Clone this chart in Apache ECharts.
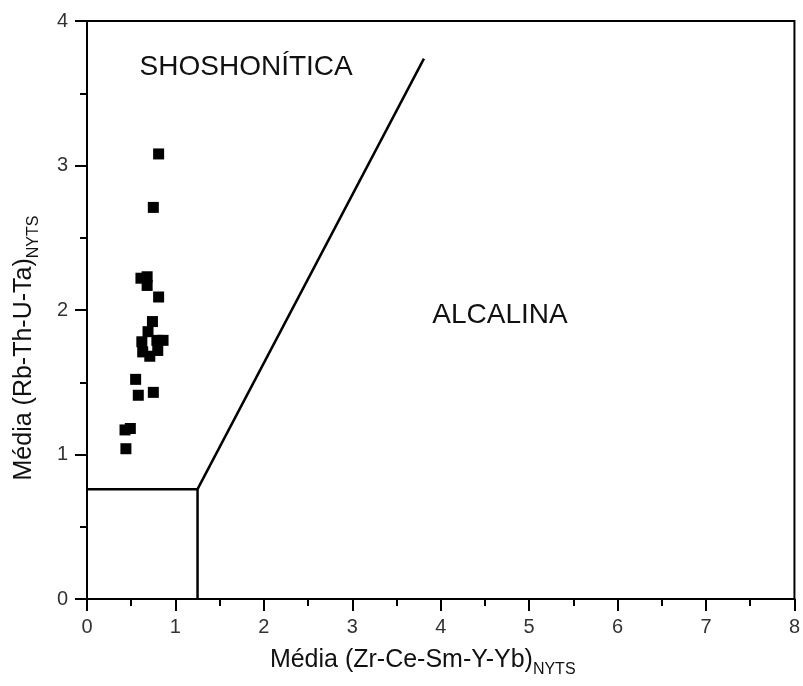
<!DOCTYPE html>
<html>
<head>
<meta charset="utf-8">
<script src="https://cdn.jsdelivr.net/npm/echarts@6/dist/echarts.min.js"></script>
<style>
  html, body { margin: 0; padding: 0; background: #fff; }
  #chart { width: 803px; height: 686px; }
</style>
</head>
<body>
<div id="chart"></div>
<script>
// Sample averages (Zr-Ce-Sm-Y-Yb vs Rb-Th-U-Ta, NYTS-normalised)
const sampleX = [0.81, 0.75, 0.61, 0.68, 0.68, 0.81, 0.74, 0.69, 0.62, 0.63,
                 0.71, 0.80, 0.86, 0.79, 0.55, 0.58, 0.75, 0.43, 0.49, 0.44];
const sampleY = [3.08, 2.71, 2.22, 2.23, 2.17, 2.09, 1.92, 1.85, 1.78, 1.71,
                 1.68, 1.72, 1.79, 1.79, 1.52, 1.41, 1.43, 1.17, 1.18, 1.04];

// Field boundaries
const boxBoundary = [[0, 0.76], [1.25, 0.76], [1.25, 0]];
const slopeBoundary = [[1.25, 0.76], [3.81, 3.74]];

// Field names and where they sit
const fieldNames = ['SHOSHONÍTICA', 'ALCALINA'];
const fieldX = [1.80, 4.67];
const fieldY = [3.68, 1.96];

const xTicks = [0, 1, 2, 3, 4, 5, 6, 7, 8];
const yTicks = [0, 1, 2, 3, 4];

const points = sampleX.map((x, i) => [x, sampleY[i]]);
const fields = fieldNames.map((n, i) => ({ name: n, value: [fieldX[i], fieldY[i]] }));

const txt = '#111';
const tickTxt = '#333';
const font = 'Liberation Sans, Arial, sans-serif';

const nameRich = {
  m: { fontSize: 25, fontFamily: font, color: txt, verticalAlign: 'bottom', padding: [0, 0, 2, 0] },
  s: { fontSize: 16, fontFamily: font, color: txt, verticalAlign: 'bottom', padding: [0, 0, -3, 0] }
};

const chart = echarts.init(document.getElementById('chart'));
chart.setOption({
  animation: false,
  backgroundColor: '#ffffff',
  grid: {
    left: 87, right: 8, top: 21, bottom: 87,
    show: true, borderColor: '#000', borderWidth: 2,
    backgroundColor: 'transparent'
  },
  xAxis: {
    type: 'value',
    min: xTicks[0], max: xTicks[xTicks.length - 1], interval: 1,
    name: '{m|Média (Zr-Ce-Sm-Y-Yb)}{s|NYTS}',
    nameLocation: 'middle',
    nameGap: 49,
    nameTextStyle: { padding: [0, 36, 0, 0], rich: nameRich },
    axisLine: { show: true, lineStyle: { color: '#000', width: 2 } },
    axisTick: { show: true, inside: false, length: 12, lineStyle: { color: '#000', width: 2 } },
    minorTick: { show: true, splitNumber: 2, length: 7, lineStyle: { color: '#000', width: 2 } },
    splitLine: { show: false },
    axisLabel: { margin: 18, fontSize: 20, fontFamily: font, color: tickTxt }
  },
  yAxis: {
    type: 'value',
    min: yTicks[0], max: yTicks[yTicks.length - 1], interval: 1,
    name: '{m|Média (Rb-Th-U-Ta)}{s|NYTS}',
    nameLocation: 'middle',
    nameGap: 48,
    nameRotate: 90,
    nameTextStyle: { padding: [0, 76, 0, 0], rich: nameRich },
    axisLine: { show: true, lineStyle: { color: '#000', width: 2 } },
    axisTick: { show: true, inside: false, length: 12, lineStyle: { color: '#000', width: 2 } },
    minorTick: { show: true, splitNumber: 2, length: 7, lineStyle: { color: '#000', width: 2 } },
    splitLine: { show: false },
    axisLabel: { margin: 19, fontSize: 20, fontFamily: font, color: tickTxt }
  },
  series: [
    {
      type: 'line', data: boxBoundary, showSymbol: false, symbol: 'none',
      lineStyle: { color: '#000', width: 2.5 }, z: 2
    },
    {
      type: 'line', data: slopeBoundary, showSymbol: false, symbol: 'none',
      lineStyle: { color: '#000', width: 2.5 }, z: 2
    },
    {
      type: 'scatter', data: points, symbol: 'rect', symbolSize: 11,
      itemStyle: { color: '#000', opacity: 1 }, z: 3
    },
    {
      type: 'scatter', data: fields, symbolSize: 0, silent: true,
      itemStyle: { opacity: 1 },
      label: {
        show: true, position: 'inside', formatter: '{b}',
        fontSize: 28, fontFamily: font, color: txt
      }
    }
  ]
});
</script>
</body>
</html>
